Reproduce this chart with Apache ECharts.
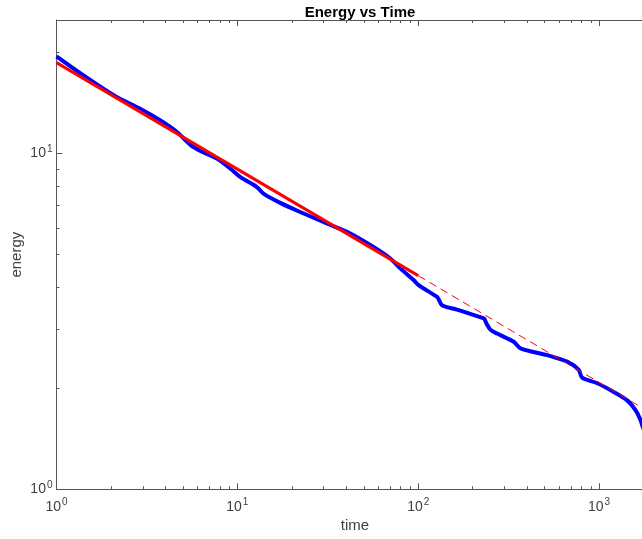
<!DOCTYPE html>
<html>
<head>
<meta charset="utf-8">
<script src="https://cdn.jsdelivr.net/npm/echarts@6/dist/echarts.min.js"></script>
<style>
  html, body { margin: 0; padding: 0; background: #fff; }
  #chart { width: 642px; height: 539px; }
</style>
</head>
<body>
<div id="chart"></div>
<script>
// measured curve (time, energy)
const timeVals = [1.0, 1.41, 2.15, 2.90, 3.74, 4.63, 5.71, 7.70, 9.12, 10.36, 12.82, 13.95, 17.26, 22.26,
  31.27, 42.1, 56.6, 70.1, 79.6, 94.3, 100.5, 127.1, 129.7, 134.3, 141.3, 163.9, 230.1, 232.2, 238.3,
  250.6, 273.0, 337.3, 367.4, 516.3, 666, 772, 806, 976, 1206, 1431, 1590, 1695, 1739, 1920];
const energyVals = [19.48, 17.10, 14.74, 13.61, 12.57, 11.60, 10.46, 9.66, 9.03, 8.52, 7.95, 7.60, 7.13, 6.70,
  6.19, 5.78, 5.27, 4.87, 4.55, 4.20, 4.06, 3.74, 3.68, 3.55, 3.50, 3.43, 3.23, 3.22, 3.12,
  2.99, 2.91, 2.75, 2.63, 2.51, 2.40, 2.27, 2.15, 2.07, 1.95, 1.84, 1.72, 1.61, 1.54, 1.36];

// power-law fit: solid over the fit range, dashed beyond
const fitSolidT = [1, 100];
const fitSolidE = [18.66, 4.33];
const fitDashT = [100, 2000];
const fitDashE = [4.33, 1.67];

const xMajor = [1, 10, 100, 1000];
const yMajor = [1, 10];

const minorTicks = (lo, hi) => {
    const out = [];
    for (let p = 1; p < 10000; p *= 10) {
        for (let k = 2; k <= 9; k++) {
            const v = k * p;
            if (v > lo && v < hi) out.push(v);
        }
    }
    return out;
};

const zip = (a, b) => a.map((v, i) => [v, b[i]]);

const axisColor = '#555';
const textColor = '#404040';
const font = 'Liberation Sans, Arial, sans-serif';

const powLabel = {
    formatter: v => '{b|10}{s|' + Math.round(Math.log10(v)) + '}',
    rich: {
        b: { fontSize: 14, color: textColor, fontFamily: font },
        s: { fontSize: 10, color: textColor, fontFamily: font, padding: [0, 0, 9, 1] }
    }
};

const logAxis = (extra) => Object.assign({
    type: 'log',
    logBase: 10,
    splitLine: { show: false },
    minorTick: { show: false },
    axisLine: { show: false },
    axisTick: { show: false },
    axisLabel: { show: false }
}, extra);

const X_MIN = 1, X_MAX = 2000, Y_MIN = 1, Y_MAX = 25;

const chart = echarts.init(document.getElementById('chart'));
chart.setOption({
    animation: false,
    title: {
        text: 'Energy vs Time',
        left: 355,
        top: 0,
        textAlign: 'center',
        textStyle: { fontSize: 15, fontWeight: 'bold', color: '#000', fontFamily: font }
    },
    grid: { left: 56.5, top: 20, width: 597, height: 469.3, containLabel: false, outerBoundsMode: 'none' },
    xAxis: [
        logAxis({
            min: X_MIN, max: X_MAX, position: 'bottom',
            axisLine: { show: true, onZero: false, lineStyle: { color: axisColor, width: 1 } },
            axisTick: { show: true, inside: true, length: 6, customValues: xMajor, lineStyle: { color: axisColor } },
            axisLabel: Object.assign({ show: true, customValues: xMajor, margin: 8 }, powLabel),
            name: 'time', nameLocation: 'middle', nameGap: 29,
            nameTextStyle: { fontSize: 15, color: textColor, fontFamily: font }
        }),
        logAxis({
            min: X_MIN, max: X_MAX, position: 'bottom',
            axisTick: { show: true, inside: true, length: 3, customValues: minorTicks(X_MIN, X_MAX), lineStyle: { color: axisColor } }
        }),
        logAxis({
            min: X_MIN, max: X_MAX, position: 'top',
            axisLine: { show: true, onZero: false, lineStyle: { color: axisColor, width: 1 } },
            axisTick: { show: true, inside: true, length: 6, customValues: xMajor, lineStyle: { color: axisColor } }
        }),
        logAxis({
            min: X_MIN, max: X_MAX, position: 'top',
            axisTick: { show: true, inside: true, length: 3, customValues: minorTicks(X_MIN, X_MAX), lineStyle: { color: axisColor } }
        })
    ],
    yAxis: [
        logAxis({
            min: Y_MIN, max: Y_MAX, position: 'left',
            axisLine: { show: true, onZero: false, lineStyle: { color: axisColor, width: 1 } },
            axisTick: { show: true, inside: true, length: 6, customValues: yMajor, lineStyle: { color: axisColor } },
            axisLabel: Object.assign({ show: true, customValues: yMajor, margin: 4 }, powLabel),
            name: 'energy', nameLocation: 'middle', nameGap: 32, nameMoveOverlap: false,
            nameTextStyle: { fontSize: 15, color: textColor, fontFamily: font }
        }),
        logAxis({
            min: Y_MIN, max: Y_MAX, position: 'left',
            axisTick: { show: true, inside: true, length: 3, customValues: minorTicks(Y_MIN, Y_MAX), lineStyle: { color: axisColor } }
        })
    ],
    series: [
        {
            name: 'energy',
            type: 'line',
            data: zip(timeVals, energyVals),
            showSymbol: false,
            smooth: 0.3,
            lineStyle: { color: '#0000ff', width: 4 },
            z: 2
        },
        {
            name: 'fit',
            type: 'line',
            data: zip(fitSolidT, fitSolidE),
            showSymbol: false,
            lineStyle: { color: '#ff0000', width: 3 },
            z: 3
        },
        {
            name: 'fit extrapolated',
            type: 'line',
            data: zip(fitDashT, fitDashE),
            showSymbol: false,
            lineStyle: { color: '#ff0000', width: 1, type: [8, 5] },
            z: 3
        }
    ]
});
</script>
</body>
</html>
